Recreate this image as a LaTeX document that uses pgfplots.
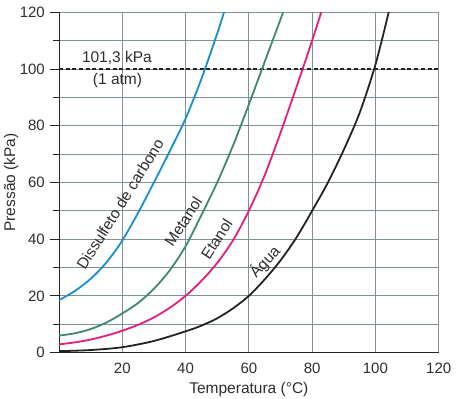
\documentclass[border=0pt]{standalone}
\usepackage{fontspec}
\setmainfont{Liberation Sans}
\usepackage{pgfplots}
\pgfplotsset{compat=1.18}
\definecolor{gridc}{RGB}{128,144,148}
\definecolor{cblue}{RGB}{24,142,206}
\definecolor{cteal}{RGB}{62,135,115}
\definecolor{cmag}{RGB}{226,30,126}
\definecolor{cblack}{RGB}{35,35,35}
\definecolor{txt}{RGB}{45,45,45}
\begin{document}
\fontsize{15bp}{18bp}\selectfont
\begin{tikzpicture}
\begin{axis}[
  scale only axis, width=379.7bp, height=340.3bp,
  xmin=0, xmax=120, ymin=0, ymax=120,
  axis lines=left,
  axis line style={-, draw=cblack, line width=0.9bp},
  every outer x axis line/.append style={-},
  every outer y axis line/.append style={-},
  xtick={20,40,...,120}, ytick={0,20,...,120},
  minor ytick={10,30,...,110},
  xmajorgrids, ymajorgrids, yminorgrids,
  major grid style={draw=gridc, line width=0.8bp},
  minor grid style={draw=gridc, line width=0.8bp},
  tick align=outside,
  major tick length=9bp, minor tick length=5.5bp,
  x tick style={draw=none},
  y tick style={draw=cblack, line width=0.8bp},
  /pgf/number format/assume math mode=true,
  tick label style={font=\fontsize{15bp}{18bp}\selectfont, text=txt},
  x tick label style={yshift=3.5bp},
  label style={font=\fontsize{15.5bp}{18bp}\selectfont, text=txt},
  xlabel={Temperatura (°C)},
  ylabel={Pressão (kPa)},
  xlabel style={at={(axis description cs:0.5,-0.108)}, anchor=center},
  ylabel style={at={(axis description cs:-0.126,0.5)}, anchor=center},
  clip=true,
]
\coordinate (ll) at (rel axis cs:0,0);
\coordinate (ur) at (rel axis cs:1,1);
% dashed reference line
\addplot[draw=cblack, line width=1.2bp, dash pattern=on 4bp off 2.7bp] coordinates {(0,100) (120,100)};
% Dissulfeto de carbono
\addplot[cblue, line width=1.8bp, smooth, tension=0.5] coordinates {
(0,18.5) (5,21.7) (10,26) (15,31.8) (20,39.5) (25,49.3) (30,60) (35,71) (40,82.5) (45,96.5) (50,112.5) (52,119.5) (52.5,121.5)};
% Metanol
\addplot[cteal, line width=1.8bp, smooth, tension=0.5] coordinates {
(0,6) (5,6.8) (10,8.3) (15,10.6) (20,13.8) (25,17.5) (30,22.5) (35,29) (40,37.5) (45,48.5) (50,60) (55,73) (60,87.5) (65,102.5) (70,117.5) (71,120.5)};
% Etanol
\addplot[cmag, line width=1.8bp, smooth, tension=0.5] coordinates {
(0,2.9) (5,3.6) (10,4.6) (15,6) (20,7.7) (25,9.8) (30,12.4) (35,15.8) (40,20) (45,25.3) (50,31.6) (55,39.6) (60,50) (65,62.5) (70,77.5) (75,93.5) (80,110) (83,120.5)};
% Agua
\addplot[cblack, line width=1.8bp, smooth, tension=0.5] coordinates {
(0,0.5) (10,0.9) (20,1.9) (30,4.1) (40,7.5) (45,9.5) (50,12.1) (55,15.6) (60,20) (65,25.8) (70,32.5) (75,40.5) (80,50) (85,60) (90,71.5) (95,84.5) (100,101.5) (104.3,120.5)};
\node[text=txt, font=\fontsize{15.5bp}{18bp}\selectfont] at (axis cs:18.3,103.8) {101,3 kPa};
\node[text=txt, font=\fontsize{15.5bp}{18bp}\selectfont] at (axis cs:18.5,96.0) {(1 atm)};
\node[text=txt, rotate=58, font=\fontsize{15.5bp}{18bp}\selectfont] at (axis cs:19.3,52.3) {Dissulfeto de carbono};
\node[text=txt, rotate=57, font=\fontsize{15.5bp}{18bp}\selectfont] at (axis cs:39.3,46.2) {Metanol};
\node[text=txt, rotate=57, font=\fontsize{15.5bp}{18bp}\selectfont] at (axis cs:49.8,40) {Etanol};
\node[text=txt, rotate=47, font=\fontsize{15.5bp}{18bp}\selectfont] at (axis cs:65.1,31.9) {Água};
\end{axis}
\pgfresetboundingbox
\path[use as bounding box] (ll) ++(-59bp,-45.7bp) rectangle ([shift={(18.3bp,12.3bp)}]ur);
\end{tikzpicture}
\end{document}
